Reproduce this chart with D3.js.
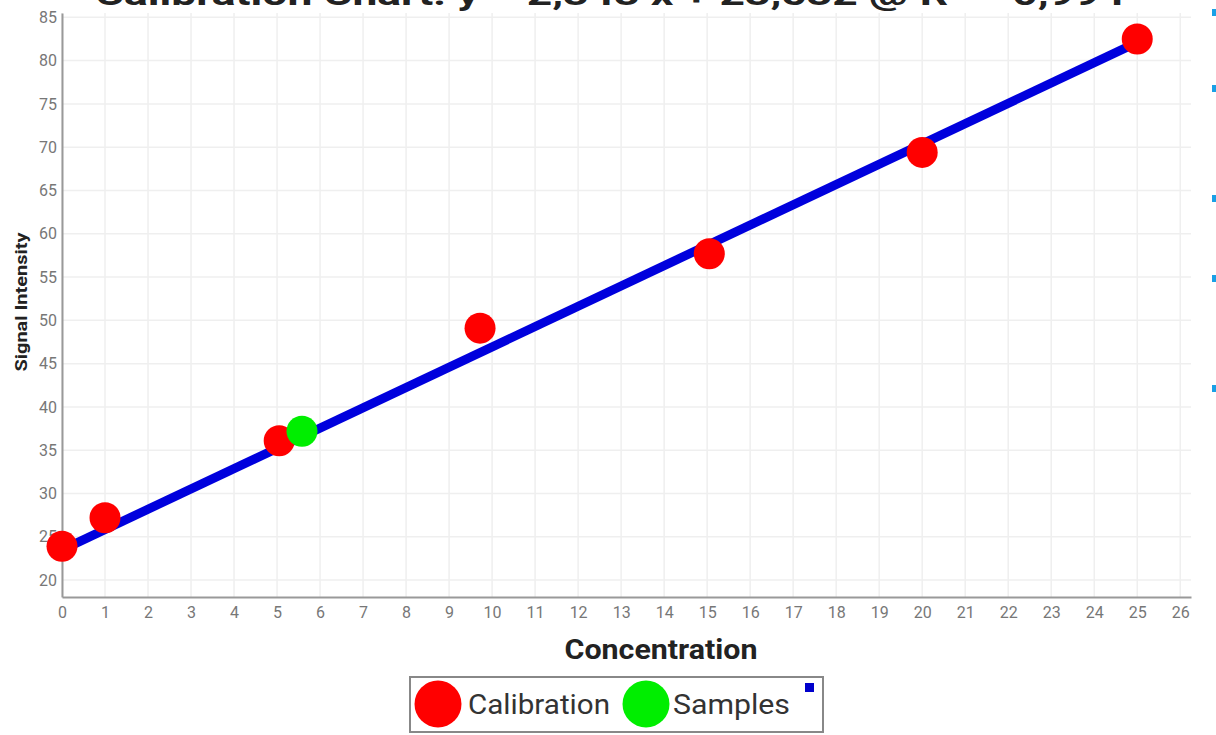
<!DOCTYPE html>
<html>
<head>
<meta charset="utf-8">
<script src="https://cdn.jsdelivr.net/npm/d3@7"></script>
<style>
  body { margin: 0; background: #fff; }
  svg { display: block; font-family: Roboto, "Noto Sans", sans-serif; }
</style>
</head>
<body>
<svg id="chart" width="1216" height="735"></svg>
<script>
// Data
const calibrationX = [0, 1, 5.05, 9.72, 15.05, 20, 25];
const calibrationY = [23.9, 27.2, 36.1, 49.1, 57.7, 69.4, 82.5];
const sampleX = [5.58];
const sampleY = [37.2];
// fitted line end points
const fitX = [0, 25];
const fitY = [23.5, 82.1];
const xTicks = d3.range(0, 27);
const yTicks = d3.range(20, 90, 5);
const titleText = "Calibration Chart: y = 2,343 x + 23,532 @ R² = 0,994";

// Plot box
const margin = { top: 13, right: 25, bottom: 138, left: 62 };
const W = 1216, H = 735;
const width = W - margin.left - margin.right;
const height = H - margin.top - margin.bottom;

const svg = d3.select("#chart");

const x = d3.scaleLinear().domain([0, 26.25]).range([0, width]);
const y = d3.scaleLinear().domain([18.05, 85.5]).range([height, 0]);

const g = svg.append("g")
    .attr("transform", `translate(${margin.left},${margin.top})`);

// grid
g.append("g")
    .selectAll("line")
    .data(xTicks)
    .join("line")
    .attr("x1", d => x(d)).attr("x2", d => x(d))
    .attr("y1", 0).attr("y2", height)
    .attr("stroke", "#efefef").attr("stroke-width", 1.5);

g.append("g")
    .selectAll("line")
    .data(yTicks)
    .join("line")
    .attr("x1", 0).attr("x2", width)
    .attr("y1", d => y(d)).attr("y2", d => y(d))
    .attr("stroke", "#efefef").attr("stroke-width", 1.5);

// axes
const xAxis = g.append("g")
    .attr("transform", `translate(0,${height})`)
    .call(d3.axisBottom(x).tickValues(xTicks).tickSize(0).tickPadding(10));
const yAxis = g.append("g")
    .call(d3.axisLeft(y).tickValues(yTicks).tickSize(0).tickPadding(5));

[xAxis, yAxis].forEach(a => {
  a.select(".domain").attr("stroke", "#999").attr("stroke-width", 2);
  a.selectAll("text")
      .attr("fill", "#777")
      .style("font-size", "16px")
      .style("font-family", "Roboto, sans-serif");
});

// fit line
const line = d3.line().x(d => x(d[0])).y(d => y(d[1]));
g.append("path")
    .datum(d3.zip(fitX, fitY))
    .attr("d", line)
    .attr("fill", "none")
    .attr("stroke", "#0000dd")
    .attr("stroke-width", 9);

// points
g.selectAll(".cal")
    .data(d3.zip(calibrationX, calibrationY))
    .join("circle")
    .attr("class", "cal")
    .attr("cx", d => x(d[0]))
    .attr("cy", d => y(d[1]))
    .attr("r", 15.5)
    .attr("fill", "#ff0000");

g.selectAll(".smp")
    .data(d3.zip(sampleX, sampleY))
    .join("circle")
    .attr("class", "smp")
    .attr("cx", d => x(d[0]))
    .attr("cy", d => y(d[1]))
    .attr("r", 15.5)
    .attr("fill", "#00ee00");

// title (clipped by top edge as in the reference)
svg.append("text")
    .attr("x", 610)
    .attr("y", 5)
    .attr("text-anchor", "middle")
    .attr("textLength", 1030)
    .attr("lengthAdjust", "spacingAndGlyphs")
    .style("font-size", "32px")
    .style("font-weight", "bold")
    .attr("fill", "#222")
    .text(titleText);

// axis titles
svg.append("text")
    .attr("x", 661)
    .attr("y", 659)
    .attr("text-anchor", "middle")
    .attr("textLength", 193)
    .attr("lengthAdjust", "spacingAndGlyphs")
    .style("font-size", "27px")
    .style("font-weight", "bold")
    .attr("fill", "#222")
    .text("Concentration");

svg.append("text")
    .attr("transform", "translate(27,302) rotate(-90)")
    .attr("text-anchor", "middle")
    .attr("textLength", 139)
    .attr("lengthAdjust", "spacingAndGlyphs")
    .style("font-size", "16px")
    .style("font-weight", "bold")
    .attr("fill", "#222")
    .text("Signal Intensity");

// legend
const legend = svg.append("g").attr("transform", "translate(410,677)");
legend.append("rect")
    .attr("width", 413).attr("height", 55)
    .attr("fill", "#fff")
    .attr("stroke", "#888").attr("stroke-width", 2);

const legendItems = [
  { label: "Calibration", color: "#ff0000", cx: 28, tx: 58, len: 142 },
  { label: "Samples", color: "#00ee00", cx: 236, tx: 263, len: 117 }
];
legendItems.forEach(it => {
  legend.append("circle")
      .attr("cx", it.cx).attr("cy", 27).attr("r", 23.5)
      .attr("fill", it.color);
  legend.append("text")
      .attr("x", it.tx).attr("y", 37)
      .attr("textLength", it.len)
      .attr("lengthAdjust", "spacingAndGlyphs")
      .style("font-size", "28px")
      .attr("fill", "#333")
      .text(it.label);
});
legend.append("rect")
    .attr("x", 395).attr("y", 6)
    .attr("width", 9).attr("height", 9)
    .attr("fill", "#0000cc");

// small cyan marks on right edge
const edgeMarks = [12, 88, 198, 278, 388];
svg.append("g")
    .selectAll("rect")
    .data(edgeMarks)
    .join("rect")
    .attr("x", 1212).attr("y", d => d - 3)
    .attr("width", 4).attr("height", 7)
    .attr("fill", "#1aa0e6");
</script>
</body>
</html>
